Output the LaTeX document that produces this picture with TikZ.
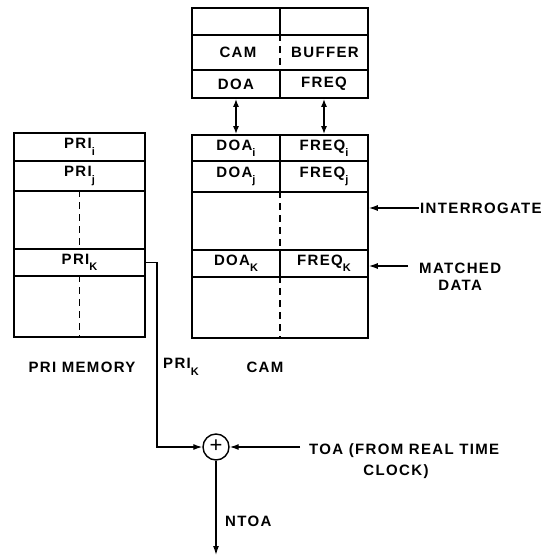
\documentclass[tikz,border=0pt]{standalone}
\usepackage{fontspec}
\setmainfont{Liberation Sans}[LetterSpace=9]
\usetikzlibrary{arrows.meta,calc}
\newcommand\mysub[1]{\raisebox{-0.8ex}{\fontsize{11}{11}\selectfont #1}}
\begin{document}
\begin{tikzpicture}[x=1pt,y=-1pt,
  font=\fontsize{15}{17}\selectfont\bfseries,
  cell/.style={draw, line width=1.6pt, rectangle, inner sep=0pt, minimum width=#1},
  divider/.style={line width=1.6pt, dash pattern=on 7pt off 5pt},
  arr/.style={line width=1.3pt, -{Latex[length=9pt,width=6pt]}},
  dblarr/.style={line width=1.6pt, {Latex[length=8pt,width=6pt]}-{Latex[length=8pt,width=6pt]}},
  lbl/.style={inner sep=1pt}]
\useasboundingbox (0,0) rectangle (544,556);

% ---- CAM buffer ----
\node[cell=88pt, minimum height=27pt] (bufa) at (236,21.5) {};
\node[cell=88pt, minimum height=27pt] (bufb) at (324,21.5) {};
\node[cell=176pt, minimum height=35pt] (bufr2) at (280,52.5) {};
\draw[divider] (bufr2.north) -- (bufr2.south);
\node[lbl] (camtxt) at (238,52.5) {CAM};
\node[lbl] (buftxt) at (325,52.5) {BUFFER};
\node[cell=88pt, minimum height=28pt] (bufdoa) at (236,84) {DOA};
\node[cell=88pt, minimum height=28pt] (buffreq) at (324,84) {FREQ};

% ---- CAM ----
\node[cell=88pt, minimum height=26pt] (doai) at (236,148) {DOA\mysub{i}};
\node[cell=88pt, minimum height=26pt] (freqi) at (324,148) {FREQ\mysub{i}};
\node[cell=88pt, minimum height=31pt] (doaj) at (236,176.5) {DOA\mysub{j}};
\node[cell=88pt, minimum height=31pt] (freqj) at (324,176.5) {FREQ\mysub{j}};
\node[cell=176pt, minimum height=58pt] (camr3) at (280,221) {};
\draw[divider] (camr3.north) -- (camr3.south);
\node[cell=88pt, minimum height=27pt] (doak) at (236,263.5) {DOA\mysub{K}};
\node[cell=88pt, minimum height=27pt] (freqk) at (324,263.5) {FREQ\mysub{K}};
\node[cell=176pt, minimum height=61pt] (camr5) at (280,307.5) {};
\draw[divider] (camr5.north) -- (camr5.south);

% ---- PRI memory ----
\node[cell=131pt, minimum height=28pt] (prii) at (79.5,147) {PRI\mysub{i}};
\node[cell=131pt, minimum height=30pt] (prij) at (79.5,176) {PRI\mysub{j}};
\node[cell=131pt, minimum height=58pt] (prir3) at (79.5,220) {};
\draw[divider] (prir3.north) -- (prir3.south);
\node[cell=131pt, minimum height=27pt] (prik) at (79.5,262.5) {PRI\mysub{K}};
\node[cell=131pt, minimum height=61pt] (prir5) at (79.5,306.5) {};
\draw[divider] (prir5.north) -- (prir5.south);

% ---- buffer <-> CAM ----
\draw[dblarr] (bufdoa.south) -- (doai.north);
\draw[dblarr] (buffreq.south) -- (freqi.north);

% ---- labels ----
\node[lbl] (primem) at (82,367) {PRI MEMORY};
\node[lbl, anchor=west] (prikl) at (162,367) {PRI\mysub{K}};
\node[lbl] (caml) at (265,367) {CAM};

\node[lbl, anchor=west] (intr) at (419,208) {INTERROGATE};
\draw[arr] (intr.west) -- (intr.west -| camr3.east);
\node[lbl, align=center, anchor=west] (match) at (418,277) {MATCHED\\DATA};
\coordinate (mstart) at (408,266);
\draw[arr] (mstart) -- (mstart -| freqk.east);

% ---- adder ----
\node[draw, circle, line width=1.4pt, minimum size=26pt, inner sep=0pt,
      font=\fontsize{22}{22}\selectfont] (sum) at (216,447) {\raisebox{0.15ex}{+}};
\coordinate (bend) at (157,262.5);
\draw[arr] (prik.east) -- (bend) |- (sum.west);
\node[lbl, anchor=west] (toa) at (308,451) {TOA (FROM REAL TIME};
\node[lbl] (clock) at (396,472) {CLOCK)};
\coordinate (toastart) at (300,447);
\draw[arr] (toastart) -- (sum.east);
\coordinate (out) at (216,555);
\draw[arr] (sum.south) -- (out);
\node[lbl, anchor=west] (ntoa) at (224,521) {NTOA};
\end{tikzpicture}
\end{document}
